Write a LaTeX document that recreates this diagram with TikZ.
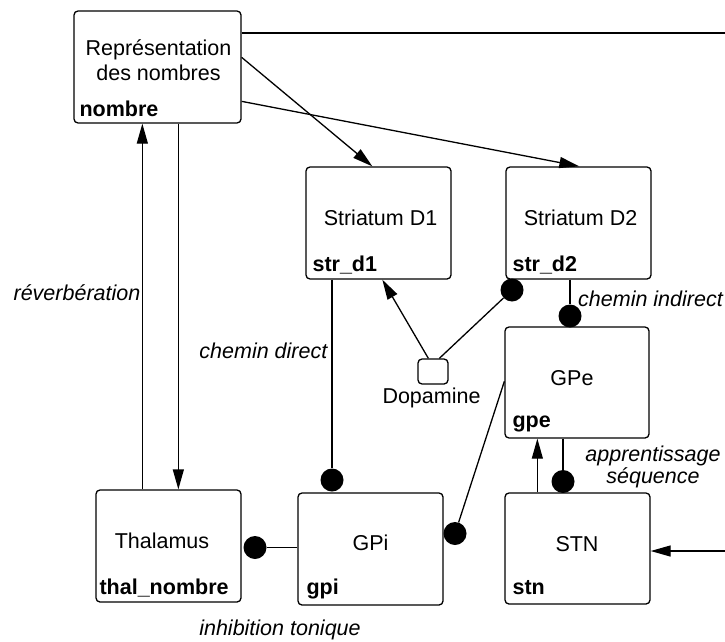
\documentclass[tikz,border=0pt]{standalone}
\usepackage{fontspec}
\setmainfont{Liberation Sans}
\usetikzlibrary{arrows.meta,calc}
\begin{document}
\begin{tikzpicture}[x=1pt,y=-1pt,
  every node/.style={font=\fontsize{21.5}{25}\selectfont},
  box/.style={draw, rounded corners=4pt, line width=1.3pt, minimum width=145pt, minimum height=112pt, inner sep=0pt},
  maintext/.style={inner sep=0pt, align=center},
  idname/.style={anchor=base west, inner sep=0pt, font=\fontsize{21.5}{25}\selectfont\bfseries},
  lab/.style={inner sep=0pt, font=\fontsize{21.5}{22}\selectfont\itshape},
  inh/.style={circle, fill=black, minimum size=23pt, inner sep=0pt},
  conn/.style={line width=1.3pt},
  arr/.style={conn, -{Triangle[length=20pt,width=11pt]}},
]
\useasboundingbox (0,0) rectangle (725,642);

% boxes
\node[box, minimum width=167pt] (nombre) at (157.5,67) {};
\node[box] (str1) at (378.5,223) {};
\node[box] (str2) at (578.5,223) {};
\node[box, minimum width=144pt, minimum height=111pt] (gpe) at (577,382.5) {};
\node[box] (thal) at (168.5,546) {};
\node[box] (gpi) at (370.5,549) {};
\node[box, minimum height=111pt] (stn) at (577.5,548.5) {};
\node[draw, rounded corners=4pt, line width=1.3pt, minimum width=30pt, minimum height=25pt, inner sep=0pt] (dopa) at (433,371.5) {};

% main texts
\node[maintext, anchor=north] (tnombre) at (158.5,39) {Représentation\\des nombres};
\node[maintext, anchor=base] (tstr1) at (380.5,225) {Striatum D1};
\node[maintext, anchor=base] (tstr2) at (580.5,225) {Striatum D2};
\node[maintext, anchor=base] (tgpe) at (572,385) {GPe};
\node[maintext, anchor=base] (tthal) at (162,548) {Thalamus};
\node[maintext, anchor=base] (tgpi) at (370.5,550) {GPi};
\node[maintext, anchor=base] (tstn) at (577,551) {STN};
\node[maintext, anchor=base] (tdopa) at (431.5,403) {Dopamine};

% identifiers
\node[idname] (inombre) at ([shift={(6pt,7pt)}]nombre.south west) {nombre};
\node[idname] (istr1) at ([shift={(7pt,8pt)}]str1.south west) {str\_d1};
\node[idname] (istr2) at ([shift={(7pt,8pt)}]str2.south west) {str\_d2};
\node[idname] (igpe) at ([shift={(8pt,11pt)}]gpe.south west) {gpe};
\node[idname] (ithal) at ([shift={(4pt,8pt)}]thal.south west) {thal\_nombre};
\node[idname] (igpi) at ([shift={(9pt,11pt)}]gpi.south west) {gpi};
\node[idname] (istn) at ([shift={(8pt,10pt)}]stn.south west) {stn};

% inhibitory dots
\node[inh] (dgpi) at (332,480) {};
\node[inh] (dstr2) at (512,290) {};
\node[inh] (dgpe) at (570,316) {};
\node[inh] (dgpir) at (455,533.5) {};
\node[inh] (dstn) at (563,481.5) {};
\node[inh] (dthal) at (255,547.5) {};

% free ends
\coordinate (eastA) at (725,33);
\coordinate (eastB) at (725,551);

% connectors
\draw[conn] (nombre.east |- eastA) -- (eastA);
\draw[arr] ($(nombre.north east)+(0,47)$) -- ($(str1.north west)+(67,0)$);
\draw[arr] ($(nombre.north east)+(0,91)$) -- ($(str2.north west)+(74,0)$);
\draw[arr] ($(thal.north west)+(47,0)$) -- ($(nombre.south west)+(69,0)$);
\draw[arr] ($(nombre.south west)+(105,0)$) -- ($(thal.north west)+(83,0)$);
\draw[conn] (dgpi |- str1.south) -- (dgpi);
\draw[arr] ($(dopa.north west)+(11,0)$) -- ($(str1.south west)+(77,0)$);
\draw[conn] ($(dopa.north west)+(22,0)$) -- (dstr2);
\draw[conn] (dgpe |- str2.south) -- (dgpe);
\draw[conn] ($(gpe.north west)+(0,55)$) -- (dgpir);
\draw[arr] ($(stn.north west)+(33,0)$) -- ($(gpe.south west)+(33,0)$);
\draw[conn] (dstn |- gpe.south) -- (dstn);
\draw[conn] (dthal -| gpi.west) -- (dthal);
\draw[arr] (eastB) -- (eastB -| stn.east);

% labels
\node[lab, anchor=base east] (lrev) at (140.5,300) {réverbération};
\node[lab, anchor=base east] (ldir) at (327.5,358) {chemin direct};
\node[lab, anchor=base west] (lind) at (578,306.5) {chemin indirect};
\node[lab, align=center, anchor=north] (lapp) at (653,445.5) {apprentissage\\séquence};
\node[lab, anchor=base] (linh) at (280,635) {inhibition tonique};
\end{tikzpicture}
\end{document}
